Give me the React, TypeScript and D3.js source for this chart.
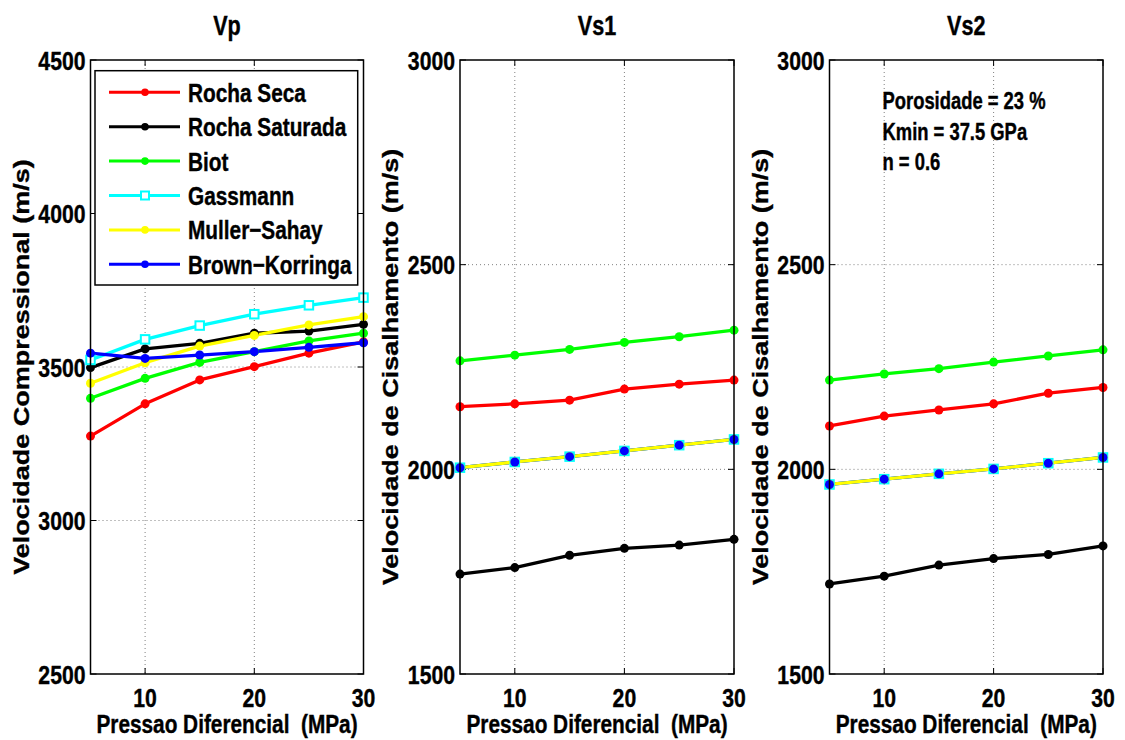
import React from "react";
import * as d3 from "d3";

const pressure = [5, 10, 15, 20, 25, 30];
const xTicks = [10, 20, 30];

const seriesNames = ["Rocha Seca", "Rocha Saturada", "Biot", "Gassmann", "Muller-Sahay", "Brown-Korringa"];
const seriesColors = ["#ff0000", "#000000", "#00ff00", "#00ffff", "#ffff00", "#0000ff"];

// Vp (m/s)
const vpRochaSeca = [3275, 3380, 3458, 3501, 3545, 3582];
const vpRochaSaturada = [3498, 3559, 3577, 3610, 3617, 3639];
const vpBiot = [3398, 3463, 3515, 3550, 3585, 3610];
const vpGassmann = [3523, 3590, 3635, 3672, 3701, 3726];
const vpMuller = [3447, 3514, 3568, 3603, 3637, 3664];
const vpBrown = [3545, 3528, 3539, 3550, 3564, 3579];

// Vs1 (m/s)
const vs1RochaSeca = [2153, 2160, 2169, 2196, 2208, 2218];
const vs1RochaSaturada = [1744, 1760, 1790, 1807, 1815, 1829];
const vs1Biot = [2265, 2279, 2293, 2310, 2324, 2340];
const vs1Gassmann = [2004, 2018, 2031, 2045, 2059, 2073];
const vs1Muller = [2004, 2018, 2031, 2045, 2059, 2073];
const vs1Brown = [2004, 2018, 2031, 2045, 2059, 2073];

// Vs2 (m/s)
const vs2RochaSeca = [2106, 2130, 2145, 2160, 2186, 2200];
const vs2RochaSaturada = [1720, 1739, 1766, 1782, 1792, 1813];
const vs2Biot = [2218, 2233, 2246, 2262, 2277, 2292];
const vs2Gassmann = [1963, 1976, 1989, 2001, 2015, 2029];
const vs2Muller = [1963, 1976, 1989, 2001, 2015, 2029];
const vs2Brown = [1963, 1976, 1989, 2001, 2015, 2029];

const vpTicks = [2500, 3000, 3500, 4000, 4500];
const vsTicks = [1500, 2000, 2500, 3000];

const infoLines = ["Porosidade = 23 %", "Kmin = 37.5 GPa", "n = 0.6"];

const FONT = "'Liberation Sans', Arial, Helvetica, sans-serif";
const SX = 0.8;
const TOP = 60;
const BOTTOM = 674;

type PanelDef = {
  title: string;
  ylabel: string;
  x0: number;
  x1: number;
  domain: [number, number];
  ticks: number[];
  data: number[][];
  lineOrder: number[];
  legend?: boolean;
  info?: boolean;
};

const panels: PanelDef[] = [
  {
    title: "Vp",
    ylabel: "Velocidade Compressional (m/s)",
    x0: 90.5,
    x1: 363.5,
    domain: [2500, 4500],
    ticks: vpTicks,
    data: [vpRochaSeca, vpRochaSaturada, vpBiot, vpGassmann, vpMuller, vpBrown],
    lineOrder: [0, 1, 2, 3, 4, 5],
    legend: true,
  },
  {
    title: "Vs1",
    ylabel: "Velocidade de Cisalhamento (m/s)",
    x0: 460,
    x1: 734,
    domain: [1500, 3000],
    ticks: vsTicks,
    data: [vs1RochaSeca, vs1RochaSaturada, vs1Biot, vs1Gassmann, vs1Muller, vs1Brown],
    lineOrder: [0, 1, 2, 3, 5, 4],
  },
  {
    title: "Vs2",
    ylabel: "Velocidade de Cisalhamento (m/s)",
    x0: 829.5,
    x1: 1103,
    domain: [1500, 3000],
    ticks: vsTicks,
    data: [vs2RochaSeca, vs2RochaSaturada, vs2Biot, vs2Gassmann, vs2Muller, vs2Brown],
    lineOrder: [0, 1, 2, 3, 5, 4],
    info: true,
  },
];

function Txt(props: {
  x: number;
  y: number;
  size: number;
  anchor?: string;
  rotate?: boolean;
  children: React.ReactNode;
}) {
  const { x, y, size, anchor = "start", rotate = false, children } = props;
  const tr = rotate
    ? `translate(${x},${y}) scale(${SX},1) rotate(-90)`
    : `translate(${x},${y}) scale(${SX},1)`;
  return (
    <text
      transform={tr}
      x={0}
      y={0}
      fontFamily={FONT}
      fontWeight="bold"
      fontSize={size}
      textAnchor={anchor}
      fill="#000"
      stroke="#000"
      strokeWidth={0.4}
    >
      {children}
    </text>
  );
}

function Marker(props: { idx: number; x: number; y: number; r?: number }) {
  const { idx, x, y, r = 4.5 } = props;
  if (idx === 3) {
    const s = 8.5;
    return (
      <rect
        x={x - s / 2}
        y={y - s / 2}
        width={s}
        height={s}
        fill="#ffffff"
        stroke={seriesColors[idx]}
        strokeWidth={2}
      />
    );
  }
  return <circle cx={x} cy={y} r={r} fill={seriesColors[idx]} />;
}

function Panel({ p }: { p: PanelDef }) {
  const x = d3.scaleLinear().domain([5, 30]).range([p.x0, p.x1]);
  const y = d3.scaleLinear().domain(p.domain).range([BOTTOM, TOP]);
  const line = d3
    .line<number>()
    .x((_, i) => x(pressure[i]))
    .y((d) => y(d));
  const cx = (p.x0 + p.x1) / 2;
  const cy = (TOP + BOTTOM) / 2;
  const tickLen = 6;
  const innerY = p.ticks.filter((t) => t > p.domain[0] && t < p.domain[1]);
  const innerX = xTicks.filter((t) => t > 5 && t < 30);

  return (
    <g>
      {innerX.map((t) => (
        <line
          key={"gx" + t}
          x1={x(t)}
          x2={x(t)}
          y1={TOP}
          y2={BOTTOM}
          stroke="#808080"
          strokeWidth={1}
          strokeDasharray="1 3"
        />
      ))}
      {innerY.map((t) => (
        <line
          key={"gy" + t}
          x1={p.x0}
          x2={p.x1}
          y1={y(t)}
          y2={y(t)}
          stroke="#808080"
          strokeWidth={1}
          strokeDasharray="1 3"
        />
      ))}
      {xTicks.map((t) => (
        <g key={"tx" + t}>
          <line x1={x(t)} x2={x(t)} y1={BOTTOM} y2={BOTTOM - tickLen} stroke="#000" strokeWidth={1} />
          <line x1={x(t)} x2={x(t)} y1={TOP} y2={TOP + tickLen} stroke="#000" strokeWidth={1} />
          <Txt x={x(t)} y={707} size={26.5} anchor="middle">
            {t}
          </Txt>
        </g>
      ))}
      {p.ticks.map((t) => (
        <g key={"ty" + t}>
          <line x1={p.x0} x2={p.x0 + tickLen} y1={y(t)} y2={y(t)} stroke="#000" strokeWidth={1} />
          <line x1={p.x1} x2={p.x1 - tickLen} y1={y(t)} y2={y(t)} stroke="#000" strokeWidth={1} />
          <Txt x={p.x0 - 5} y={y(t) + 9.5} size={26.5} anchor="end">
            {t}
          </Txt>
        </g>
      ))}
      {p.lineOrder.map((i) => (
        <path
          key={"l" + i}
          d={line(p.data[i]) || ""}
          fill="none"
          stroke={seriesColors[i]}
          strokeWidth={3.3}
          strokeLinejoin="round"
        />
      ))}
      {[0, 1, 2, 3, 4, 5].map((i) =>
        p.data[i].map((v, j) => <Marker key={"m" + i + "-" + j} idx={i} x={x(pressure[j])} y={y(v)} />)
      )}
      <rect
        x={p.x0}
        y={TOP}
        width={p.x1 - p.x0}
        height={BOTTOM - TOP}
        fill="none"
        stroke="#000"
        strokeWidth={1.5}
      />
      <Txt x={cx} y={35} size={27} anchor="middle">
        {p.title}
      </Txt>
      <Txt x={cx} y={733} size={26} anchor="middle">
        Pressao Diferencial{"\u00a0\u00a0"}(MPa)
      </Txt>
      <Txt x={p.x0 - 62} y={cy} size={27} anchor="middle" rotate>
        {p.ylabel}
      </Txt>
      {p.legend && (
        <g>
          <rect x={95} y={70.7} width={262.7} height={214.3} fill="#ffffff" stroke="#000" strokeWidth={1.5} />
          {seriesNames.map((name, i) => {
            const ry = 92.3 + i * 34.4;
            return (
              <g key={"lg" + i}>
                <line x1={109} x2={180} y1={ry} y2={ry} stroke={seriesColors[i]} strokeWidth={3} />
                {i === 3 ? (
                  <rect x={145 - 4} y={ry - 4} width={8} height={8} fill="#fff" stroke={seriesColors[i]} strokeWidth={2} />
                ) : (
                  <circle cx={145} cy={ry} r={3.8} fill={seriesColors[i]} />
                )}
                <Txt x={188} y={ry + 9.5} size={26}>
                  {name.replace("-", "\u2212")}
                </Txt>
              </g>
            );
          })}
        </g>
      )}
      {p.info && (
        <g>
          {infoLines.map((s, i) => (
            <Txt key={"in" + i} x={882.5} y={109 + i * 30.5} size={23}>
              {s}
            </Txt>
          ))}
        </g>
      )}
    </g>
  );
}

export default function App() {
  return (
    <svg
      width={1125}
      height={740}
      viewBox="0 0 1125 740"
      style={{ position: "absolute", left: 0, top: 0, background: "#fff" }}
    >
      <rect x={0} y={0} width={1125} height={740} fill="#fff" />
      {panels.map((p) => (
        <Panel key={p.title} p={p} />
      ))}
    </svg>
  );
}
